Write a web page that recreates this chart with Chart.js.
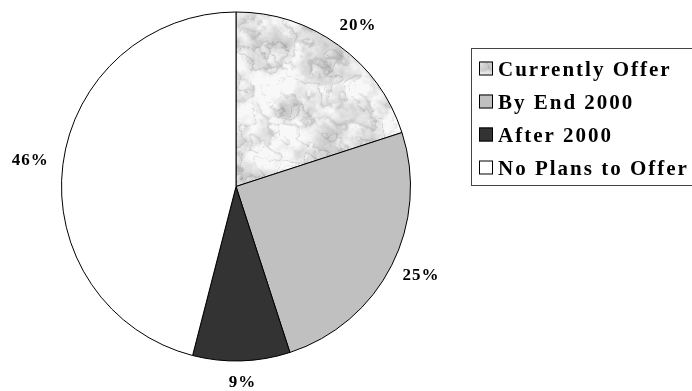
<!DOCTYPE html>
<html>
<head>
<meta charset="utf-8">
<script src="https://cdn.jsdelivr.net/npm/chart.js@4.4.0/dist/chart.umd.min.js"></script>
<style>
  html, body { margin: 0; padding: 0; background: #fff; }
  #wrap { position: relative; width: 692px; height: 391px; }
</style>
</head>
<body>
<div id="wrap"><canvas id="c" width="692" height="391"></canvas></div>
<script>
// data
var categories = ['Currently Offer', 'By End 2000', 'After 2000', 'No Plans to Offer'];
var shares = [20, 25, 9, 46];
var pctLabels = ['20%', '25%', '9%', '46%'];

// marble texture for the first slice (only a fill style)
function hash(x, y) {
  var n = Math.sin(x * 127.1 + y * 311.7) * 43758.5453;
  return n - Math.floor(n);
}
function noise(x, y) {
  var xi = Math.floor(x), yi = Math.floor(y), xf = x - xi, yf = y - yi;
  var u = xf * xf * (3 - 2 * xf), v = yf * yf * (3 - 2 * yf);
  var a = hash(xi, yi), b = hash(xi + 1, yi), c = hash(xi, yi + 1), d = hash(xi + 1, yi + 1);
  return a + (b - a) * u + (c - a) * v + (a - b - c + d) * u * v;
}
function marblePattern(ctx) {
  var w = 430, h = 200;
  var cv = document.createElement('canvas');
  cv.width = w; cv.height = h;
  var g = cv.getContext('2d');
  var img = g.createImageData(w, h);
  for (var y = 0; y < h; y++) {
    for (var x = 0; x < w; x++) {
      var t = 0, amp = 1, f = 1 / 22, tot = 0;
      for (var k = 0; k < 5; k++) { t += amp * noise(x * f + 7, y * f + 3); tot += amp; amp /= 1.6; f *= 2; }
      t /= tot;
      var ridge = 1 - Math.abs(2 * noise(x / 9 + t * 4, y / 9 + t * 3) - 1);
      var val = 238 + (t - 0.5) * 120 - Math.pow(ridge, 6) * 35;
      var i = (y * w + x) * 4;
      img.data[i] = img.data[i + 1] = img.data[i + 2] = Math.max(150, Math.min(248, val));
      img.data[i + 3] = 255;
    }
  }
  g.putImageData(img, 0, 0);
  return ctx.createPattern(cv, 'repeat');
}

var canvas = document.getElementById('c');
var ctx = canvas.getContext('2d');
var marble = marblePattern(ctx);
var sliceColors = [marble, '#c0c0c0', '#333333', '#ffffff'];

var serif = '"Liberation Serif", "Times New Roman", Times, serif';

var extras = {
  id: 'extras',
  afterDatasetsDraw: function (chart) {
    var c = chart.ctx;
    var meta = chart.getDatasetMeta(0);
    c.save();
    c.fillStyle = '#000';

    // percentage labels outside the slices
    c.font = 'bold 17px ' + serif;
    c.letterSpacing = '1px';
    c.textAlign = 'center';
    c.textBaseline = 'middle';
    meta.data.forEach(function (arc, i) {
      var p = arc.getProps(['x', 'y', 'startAngle', 'endAngle', 'outerRadius'], true);
      var mid = (p.startAngle + p.endAngle) / 2;
      c.fillText(pctLabels[i], p.x + Math.cos(mid) * (p.outerRadius + 33),
                 p.y + Math.sin(mid) * (p.outerRadius + 23) - 1);
    });

    // legend box
    c.lineWidth = 1;
    c.strokeStyle = '#444';
    c.strokeRect(471.5, 48.5, 240, 137);
    c.font = 'bold 21px ' + serif;
    c.letterSpacing = '2px';
    c.textAlign = 'left';
    c.textBaseline = 'alphabetic';
    categories.forEach(function (name, i) {
      var cy = 68.5 + i * 33;
      c.fillStyle = sliceColors[i];
      c.fillRect(479, cy - 7, 14, 14);
      c.strokeStyle = '#000';
      c.strokeRect(479.5, cy - 6.5, 13, 13);
      c.fillStyle = '#000';
      c.fillText(name, 498, cy + 7);
    });
    c.restore();
  }
};

function draw() {
  new Chart(canvas, {
    type: 'pie',
    data: {
      labels: categories,
      datasets: [{
        data: shares,
        backgroundColor: sliceColors,
        borderColor: '#000',
        borderWidth: 1
      }]
    },
    options: {
      responsive: false,
      animation: false,
      layout: { padding: { left: 61, right: 281, top: 11, bottom: 29 } },
      plugins: {
        legend: { display: false },
        tooltip: { enabled: false }
      }
    },
    plugins: [extras]
  });
}

Promise.all([
  document.fonts.load('bold 21px "Liberation Serif"'),
  document.fonts.load('bold 17px "Liberation Serif"')
]).then(draw, draw);
</script>
</body>
</html>
